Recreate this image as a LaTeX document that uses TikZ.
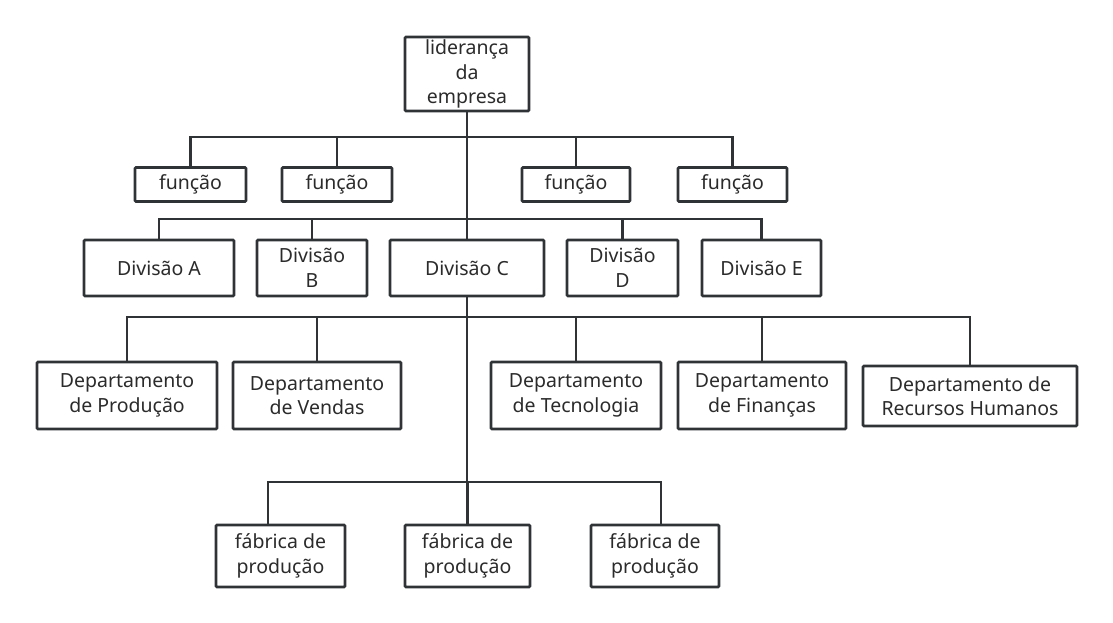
\documentclass[tikz,border=0pt]{standalone}
\usepackage{fontspec}
\setmainfont{Noto Sans}
\usepackage{tikz}
\usetikzlibrary{positioning,calc}
\usepackage{xcolor}
\definecolor{chartline}{HTML}{2F3336}
\definecolor{charttext}{HTML}{2B2B2B}

\begin{document}
\begin{tikzpicture}[
    x=1pt, y=-1pt,
    box/.style={draw=chartline, line width=2.8pt, rounded corners=1pt, fill=white, minimum width=#1, inner sep=0pt, align=center, text=charttext, font=\fontsize{19.5}{24.5}\selectfont},
    link/.style={draw=chartline, line width=2.8pt},
]
\useasboundingbox (0,0) rectangle (1113,623);

% top
\node[box=124pt, minimum height=74pt] (lead) at (467,74) {liderança\\da\\empresa};

% functions
\node[box=111pt, minimum height=34pt] (fun1) at (190.5,184.5) {função};
\node[box=110pt, minimum height=34pt] (fun2) at (337,184.5) {função};
\node[box=108pt, minimum height=34pt] (fun3) at (576,184.5) {função};
\node[box=109pt, minimum height=34pt] (fun4) at (732.5,184.5) {função};

% divisions
\node[box=150pt, minimum height=56pt] (divA) at (159,268) {Divisão A};
\node[box=110pt, minimum height=56pt] (divB) at (312,268) {Divisão\\B};
\node[box=154pt, minimum height=56pt] (divC) at (467,268) {Divisão C};
\node[box=111pt, minimum height=56pt] (divD) at (622.5,268) {Divisão\\D};
\node[box=119pt, minimum height=56pt] (divE) at (761.5,268) {Divisão E};

% departments
\node[box=180pt, minimum height=67pt] (depProd) at (127,395.5) {Departamento\\de Produção};
\node[box=168pt, minimum height=67pt] (depVend) at (317,395.5) {Departamento\\de Vendas};
\node[box=170pt, minimum height=67pt] (depTec) at (576,395.5) {Departamento\\de Tecnologia};
\node[box=168pt, minimum height=67pt] (depFin) at (762,395.5) {Departamento\\de Finanças};
\node[box=214pt, minimum height=60pt] (depRH) at (970,396) {Departamento de\\Recursos Humanos};

% factories
\node[box=129pt, minimum height=62pt] (fab1) at (280.5,556) {fábrica de\\produção};
\node[box=125pt, minimum height=62pt] (fab2) at (467.5,556) {fábrica de\\produção};
\node[box=128pt, minimum height=62pt] (fab3) at (655,556) {fábrica de\\produção};

% buses
\coordinate (funBus) at (467,137);
\coordinate (divBus) at (467,219);
\coordinate (depBus) at (467,317);
\coordinate (fabBus) at (467,482);

\draw[link] (lead.south) -- (divC.north);
\draw[link] (fun1.north) |- (funBus) -| (fun4.north);
\draw[link] (fun2.north) |- (funBus);
\draw[link] (fun3.north) |- (funBus);

\draw[link] (divA.north) |- (divBus) -| (divE.north);
\draw[link] (divB.north) |- (divBus);
\draw[link] (divD.north) |- (divBus);

\draw[link] (divC.south) -- (fabBus);
\draw[link] (depProd.north) |- (depBus) -| (depRH.north);
\draw[link] (depVend.north) |- (depBus);
\draw[link] (depTec.north) |- (depBus);
\draw[link] (depFin.north) |- (depBus);

\draw[link] ([xshift=-12.5pt]fab1.north) |- (fabBus) -| ([xshift=6pt]fab3.north);
\draw[link] (fab2.north) -- (fab2.north |- fabBus);

\end{tikzpicture}
\end{document}
